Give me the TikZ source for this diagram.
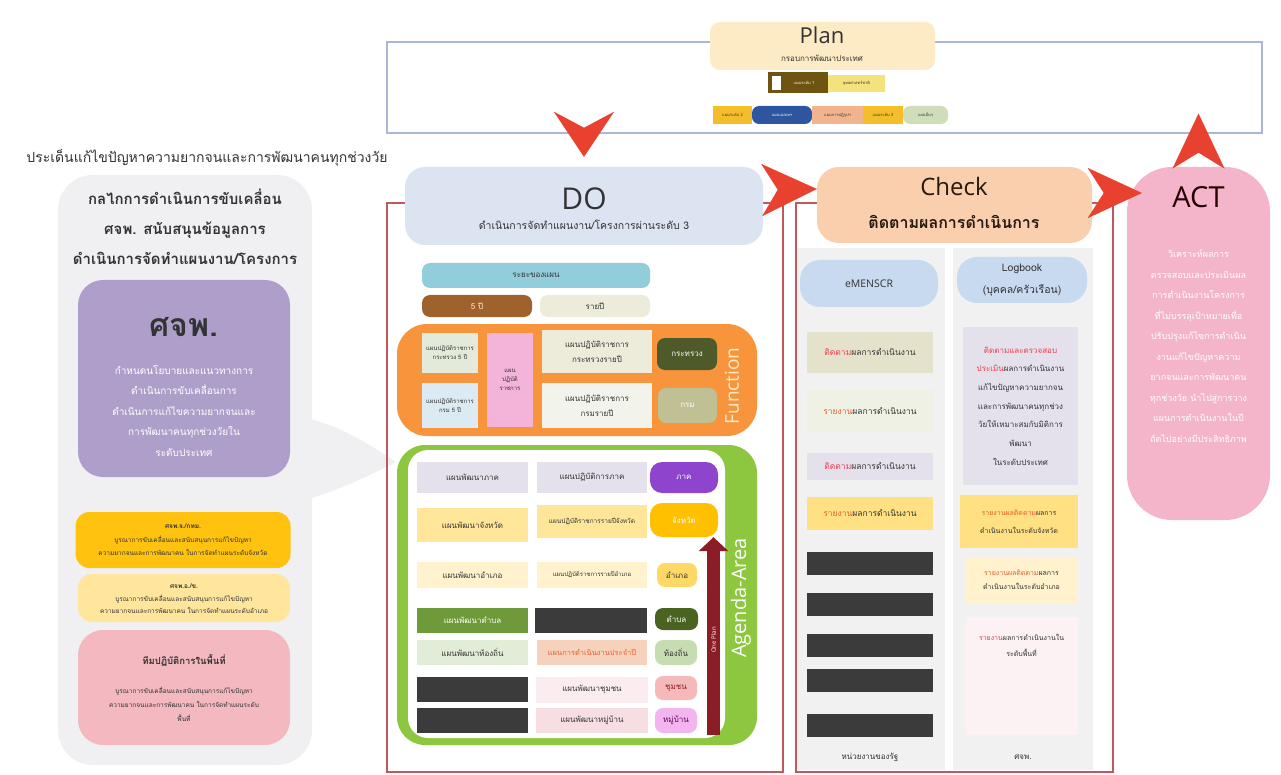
\documentclass[tikz,border=0pt]{standalone}
\usepackage{fontspec}
\setmainfont{Open Sans}
\newfontfamily\thai[Script=Thai]{Loma}
\usepackage{tikz}
\usetikzlibrary{arrows.meta}

\definecolor{framered}{HTML}{C0595E}
\definecolor{arrred}{HTML}{E8412F}
\definecolor{planline}{HTML}{AAB8D8}
\definecolor{cream}{HTML}{FCEBC4}
\definecolor{tagbrown}{HTML}{6E5410}
\definecolor{taglemon}{HTML}{F4E37C}
\definecolor{tagamber}{HTML}{F4BE2A}
\definecolor{tagblue}{HTML}{2D55A0}
\definecolor{tagpeach}{HTML}{F2B48E}
\definecolor{tagsage}{HTML}{CFDDB9}
\definecolor{panel}{HTML}{F0F0F2}
\definecolor{purp}{HTML}{AE9FCA}
\definecolor{gold}{HTML}{FFC20E}
\definecolor{lgold}{HTML}{FFE69C}
\definecolor{rose}{HTML}{F4B8C0}
\definecolor{doblue}{HTML}{DCE4F2}
\definecolor{sky}{HTML}{92CDDC}
\definecolor{planbrown}{HTML}{A0622D}
\definecolor{beige}{HTML}{EDEBD9}
\definecolor{orng}{HTML}{F7943C}
\definecolor{funcsage}{HTML}{E3EAD9}
\definecolor{funcblue}{HTML}{DCEAF3}
\definecolor{funcpink}{HTML}{F4B4DA}
\definecolor{funcpale}{HTML}{F2F3EA}
\definecolor{olive}{HTML}{4E5A2A}
\definecolor{khaki}{HTML}{BFC094}
\definecolor{agreen}{HTML}{8DC63F}
\definecolor{lav}{HTML}{E4E1EC}
\definecolor{regpurple}{HTML}{8E44CC}
\definecolor{yel}{HTML}{FFE699}
\definecolor{lyel}{HTML}{FFF2CC}
\definecolor{amber}{HTML}{FFC000}
\definecolor{ampher}{HTML}{FFD966}
\definecolor{tgreen}{HTML}{6E9A3A}
\definecolor{dgreen}{HTML}{4A6320}
\definecolor{lgreen}{HTML}{E1EDD6}
\definecolor{mgreen}{HTML}{C6DDB2}
\definecolor{peach}{HTML}{F6D2BC}
\definecolor{darkbar}{HTML}{3B3B3B}
\definecolor{lpink}{HTML}{FBEDEF}
\definecolor{mpink}{HTML}{F6DEE2}
\definecolor{cpink}{HTML}{F5B9B9}
\definecolor{magenta}{HTML}{F3B5EF}
\definecolor{oneplan}{HTML}{8B1E24}
\definecolor{chkpeach}{HTML}{F9CFAE}
\definecolor{colgray}{HTML}{F1F1F1}
\definecolor{lblue}{HTML}{C7DAF0}
\definecolor{actpink}{HTML}{F4B5CB}
\definecolor{hired}{HTML}{EE3B4B}
\definecolor{orred}{HTML}{E8602C}
\definecolor{ink}{HTML}{333333}

\newcommand{\tf}[2]{\thai\fontsize{#1}{#2}\selectfont}
\newcommand{\ef}[2]{\fontsize{#1}{#2}\selectfont}

\begin{document}
\begin{tikzpicture}[x=1pt, y=-1pt, every node/.style={inner sep=0pt, align=center, text=ink}]

\tikzset{
	th/.style 2 args = {font = \tf{#1}{#2}},
	en/.style 2 args = {font = \ef{#1}{#2}},
	redframe/.style = {draw = framered, line width = 1.1pt},
	redhead/.style 2 args = {draw = arrred, fill = arrred, line width = 0.1pt,
		-{Stealth[length = #1, width = #2, inset = 16pt]}},
	plantag/.style = {minimum height = 18, th = {4}{5}},
	fbox/.style = {th = {6}{9}},
	agl/.style = {minimum width = 111, minimum height = 25, th = {8}{10}},
	agm/.style = {minimum width = 110, minimum height = 25, th = {8}{10}},
	badge/.style = {rounded corners = 8, th = {8}{10}},
	ebox/.style = {minimum width = 126, th = {8.5}{10}},
	dbar/.style = {fill = darkbar, minimum width = 126, minimum height = 23},
	gbox/.style = {th = {8}{10}}
}

\useasboundingbox (0,0) rectangle (1281,775);
\fill[white] (0,0) rectangle (1281,775);

% Plan
\node[draw = planline, line width = 1.2pt, minimum width = 875, minimum height = 91] (planbox) at (824.5,87.5) {};
\node[fill = cream, rounded corners = 10, minimum width = 225, minimum height = 48] (planlbl) at (822.5,46) {};
\node[en = {22}{24}] (plantit) at (822,35) {Plan};
\node[th = {8}{9}] (plansub) at (822,58) {กรอบการพัฒนาประเทศ};
\node[plantag, fill = tagbrown, minimum width = 60, minimum height = 21, text = white] (lvlone) at (798,82.5) {\hspace{12pt}แผนระดับ 1};
\node[fill = white, draw = tagbrown, minimum width = 10, minimum height = 15] (lvlsq) at (776.5,82.5) {};
\node[plantag, fill = taglemon, minimum width = 57, minimum height = 17] (natstr) at (856.5,83.5) {ยุทธศาสตร์ชาติ};
\node[plantag, fill = tagamber, minimum width = 39] (lvltwo) at (732.5,115) {แผนระดับ 2};
\node[plantag, fill = tagblue, rounded corners = 7, minimum width = 60, text = white] (master) at (782,115) {แผนแม่บทฯ};
\node[plantag, fill = tagpeach, minimum width = 51] (reform) at (837.5,115) {แผนการปฏิรูปฯ};
\node[plantag, fill = tagamber, minimum width = 40] (lvlthree) at (883,115) {แผนระดับ 3};
\node[plantag, fill = tagsage, rounded corners = 7, minimum width = 45] (others) at (925.5,115) {แผนอื่นๆ};

% izquierda
\node[th = {14}{16}] (issue) at (207,158) {ประเด็นแก้ไขปัญหาความยากจนและการพัฒนาคนทุกช่วงวัย};
\fill[panel] (305,418) .. controls (340,425) and (370,445) .. (396,462) .. controls (370,475) and (340,490) .. (305,500) -- cycle;
\node[fill = panel, rounded corners = 35, minimum width = 254, minimum height = 590] (mech) at (185,470) {};
\node[th = {15}{30}] (mechtit) at (185,227) {\bfseries กลไกการดำเนินการขับเคลื่อน\\\bfseries ศจพ. สนับสนุนข้อมูลการ\\\bfseries ดำเนินการจัดทำแผนงาน/โครงการ};
\node[fill = purp, rounded corners = 25, minimum width = 212, minimum height = 197] (kjp) at (184,378.5) {};
\node[th = {32}{34}] (kjptit) at (184,327) {\bfseries ศจพ.};
\node[th = {10}{20.5}, text = white] (kjptxt) at (184,411) {กำหนดนโยบายและแนวทางการ\\ดำเนินการขับเคลื่อนการ\\ดำเนินการแก้ไขความยากจนและ\\การพัฒนาคนทุกช่วงวัยใน\\ระดับประเทศ};
\node[fill = gold, rounded corners = 14, minimum width = 215, minimum height = 56] (kjpj) at (183,540) {};
\node[th = {6.5}{13.5}] (kjpjtxt) at (183,540) {\bfseries ศจพ.จ./กทม.\\บูรณาการขับเคลื่อนและสนับสนุนการแก้ไขปัญหา\\ความยากจนและการพัฒนาคน ในการจัดทำแผนระดับจังหวัด};
\node[fill = lgold, rounded corners = 14, minimum width = 212, minimum height = 48] (kjpa) at (184,598) {};
\node[th = {6.5}{12.5}] (kjpatxt) at (184,599) {\bfseries ศจพ.อ./ข.\\บูรณาการขับเคลื่อนและสนับสนุนการแก้ไขปัญหา\\ความยากจนและการพัฒนาคน ในการจัดทำแผนระดับอำเภอ};
\node[fill = rose, rounded corners = 25, minimum width = 212, minimum height = 115] (team) at (184,687.5) {};
\node[th = {9.5}{11}] (teamtit) at (184,660) {\bfseries ทีมปฏิบัติการในพื้นที่};
\node[th = {6.5}{14}] (teamtxt) at (184,704) {บูรณาการขับเคลื่อนและสนับสนุนการแก้ไขปัญหา\\ความยากจนและการพัฒนาคน ในการจัดทำแผนระดับ\\พื้นที่};

% DO
\draw[redframe] (387,203) rectangle (783,772);
\node[fill = doblue, rounded corners = 20, minimum width = 358, minimum height = 78] (dohead) at (584,206) {};
\node[en = {30}{32}] (dotit) at (584,199) {DO};
\node[th = {10.5}{12}] (dosub) at (584,225) {ดำเนินการจัดทำแผนงาน/โครงการผ่านระดับ 3};
\node[fill = sky, rounded corners = 8, minimum width = 228, minimum height = 25, th = {8}{10}] (span) at (536,275.5) {ระยะของแผน};
\node[fill = planbrown, rounded corners = 8, minimum width = 110, minimum height = 22, th = {8}{10}, text = cream] (fiveyr) at (477,306) {5 ปี};
\node[fill = beige, rounded corners = 8, minimum width = 110, minimum height = 22, th = {8}{10}] (yearly) at (595,306) {รายปี};

% Function
\node[fill = orng, rounded corners = 30, minimum width = 360, minimum height = 112] (func) at (577,380) {};
\node[fbox, fill = funcsage, minimum width = 56, minimum height = 40] (funca) at (450,353) {แผนปฏิบัติราชการ\\กระทรวง 5 ปี};
\node[fbox, fill = funcblue, minimum width = 56, minimum height = 45] (funcb) at (450,405.5) {แผนปฏิบัติราชการ\\กรม 5 ปี};
\node[fbox, fill = funcpink, minimum width = 46, minimum height = 94] (funcp) at (510,380) {แผน\\ปฏิบัติ\\ราชการ};
\node[fill = beige, minimum width = 110, minimum height = 43, th = {8}{15}] (funcc) at (597,351.5) {แผนปฏิบัติราชการ\\กระทรวงรายปี};
\node[fill = funcpale, minimum width = 110, minimum height = 45, th = {8}{15}] (funcd) at (597,405.5) {แผนปฏิบัติราชการ\\กรมรายปี};
\node[badge, fill = olive, minimum width = 60, minimum height = 32, text = white] (minis) at (687,354) {กระทรวง};
\node[badge, fill = khaki, minimum width = 59, minimum height = 35, text = white] (dept) at (687.5,405.5) {กรม};
\node[en = {19}{20}, text = cream, rotate = 90] (functxt) at (732,386) {Function};

% Agenda
\node[fill = agreen, rounded corners = 28, minimum width = 360, minimum height = 300] (agenda) at (577,595) {};
\node[fill = white, rounded corners = 20, minimum width = 317, minimum height = 288] (agendain) at (566.5,594) {};
\node[en = {20}{22}, text = white, rotate = 90] (agendatxt) at (741,598) {Agenda-Area};

\node[agl, fill = lav, minimum height = 31] (regplan) at (472.5,477.5) {แผนพัฒนาภาค};
\node[agm, fill = lav, minimum height = 31] (regact) at (592,477.5) {แผนปฏิบัติการภาค};
\node[badge, fill = regpurple, rounded corners = 12, minimum width = 68, minimum height = 31, text = white] (region) at (684,477.5) {ภาค};

\node[agl, fill = yel, minimum height = 34] (provplan) at (472.5,525) {แผนพัฒนาจังหวัด};
\node[agm, fill = yel, minimum height = 33, th = {6.5}{8}] (provact) at (592,521.5) {แผนปฏิบัติราชการรายปีจังหวัด};
\node[badge, fill = amber, rounded corners = 12, minimum width = 68, minimum height = 34, text = white] (prov) at (684,520) {จังหวัด};

\node[agl, fill = lyel, minimum height = 26] (distplan) at (472.5,575) {แผนพัฒนาอำเภอ};
\node[agm, fill = lyel, minimum height = 26, th = {6}{8}] (distact) at (592,575) {แผนปฏิบัติราชการรายปีอำเภอ};
\node[badge, fill = ampher, minimum width = 40, minimum height = 24] (dist) at (677,575) {อำเภอ};

\node[agl, fill = tgreen, text = white] (subplan) at (472.5,620.5) {แผนพัฒนาตำบล};
\node[agm, fill = darkbar, minimum width = 112] (subact) at (591,620.5) {};
\node[badge, fill = dgreen, minimum width = 43, minimum height = 22, text = white] (subd) at (676.5,619) {ตำบล};

\node[agl, fill = lgreen] (locplan) at (472.5,652.5) {แผนพัฒนาท้องถิ่น};
\node[agm, fill = peach, text = orred, th = {7.5}{9}] (locact) at (592,652.5) {แผนการดำเนินงานประจำปี};
\node[badge, fill = mgreen, minimum width = 42, minimum height = 25] (local) at (676,652.5) {ท้องถิ่น};

\node[agl, fill = darkbar] (combar) at (472.5,689.5) {};
\node[agm, fill = lpink, minimum width = 112, minimum height = 26] (complan) at (592,689.5) {แผนพัฒนาชุมชน};
\node[badge, fill = cpink, minimum width = 42, minimum height = 24, text = oneplan] (comm) at (676,688) {ชุมชน};

\node[agl, fill = darkbar] (vilbar) at (472.5,720.5) {};
\node[agm, fill = mpink, minimum width = 112] (vilplan) at (592,720.5) {แผนพัฒนาหมู่บ้าน};
\node[badge, fill = magenta, minimum width = 42, minimum height = 25, text = violet!70!black] (village) at (676,720.5) {หมู่บ้าน};

\coordinate (opbot) at (713.5,735);
\draw[oneplan, line width = 13pt, -{Triangle[length = 14pt, width = 29pt]}] (opbot) -- (opbot |- prov.south);
\node[en = {6}{7}, text = white, rotate = 90] (optxt) at (713.5,640) {One Plan};

% Check
\draw[redframe] (796,203) rectangle (1113,772);
\node[fill = colgray, minimum width = 148, minimum height = 522] (coll) at (871,509) {};
\node[fill = colgray, minimum width = 140, minimum height = 522] (colr) at (1023,509) {};
\node[fill = chkpeach, rounded corners = 22, minimum width = 275, minimum height = 76] (checkhead) at (954.5,205) {};
\node[en = {24}{26}, text = black!80!brown] (chktit) at (954,187) {Check};
\node[th = {16}{18}, text = black!80!brown] (chksub) at (954,222) {\bfseries ติดตามผลการดำเนินการ};

\node[fill = lblue, rounded corners = 20, minimum width = 138, minimum height = 47, en = {10.5}{12}] (emens) at (869,283.5) {eMENSCR};
\node[fill = lblue, rounded corners = 20, minimum width = 130, minimum height = 46, th = {10.5}{22}] (logbk) at (1022,280) {Logbook\\(บุคคล/ครัวเรือน)};

\node[ebox, fill = beige!80!khaki, minimum height = 41] (eone) at (870,352.5) {\textcolor{hired}{ติดตาม}ผลการดำเนินงาน};
\node[ebox, fill = funcpale!70!beige, minimum height = 42] (etwo) at (870,411) {\textcolor{orred}{รายงาน}ผลการดำเนินงาน};
\node[ebox, fill = lav, minimum height = 27] (ethree) at (870,466.5) {\textcolor{hired}{ติดตาม}ผลการดำเนินงาน};
\node[ebox, fill = yel!85!amber, minimum height = 33] (efour) at (870,513.5) {\textcolor{orred}{รายงาน}ผลการดำเนินงาน};
\node[dbar] (bara) at (870,563.5) {};
\node[dbar] (barb) at (870,604.5) {};
\node[dbar] (barc) at (870,645.5) {};
\node[dbar] (bard) at (870,680) {};
\node[dbar] (bare) at (870,725) {};
\node[th = {8}{10}] (unitl) at (870,757) {หน่วยงานของรัฐ};

\node[gbox, fill = lav, minimum width = 115, minimum height = 158, th = {8}{18.7}] (gone) at (1020.5,406) {\textcolor{hired}{ติดตามและตรวจสอบ}\\\textcolor{hired}{ประเมิน}ผลการดำเนินงาน\\แก้ไขปัญหาความยากจน\\และการพัฒนาคนทุกช่วง\\วัยให้เหมาะสมกับมิติการ\\พัฒนา\\ในระดับประเทศ};
\node[gbox, fill = yel!85!amber, minimum width = 118, minimum height = 53, th = {7}{18}] (gtwo) at (1019,521.5) {\textcolor{orred}{รายงานผลติดตาม}ผลการ\\ดำเนินงานในระดับจังหวัด};
\node[gbox, fill = lyel, minimum width = 113, minimum height = 47, th = {7}{14}] (gthree) at (1021.5,580) {\textcolor{orred}{รายงานผลติดตาม}ผลการ\\ดำเนินงานในระดับอำเภอ};
\node[fill = lpink!70!white, minimum width = 113, minimum height = 118] (gfour) at (1021.5,676) {};
\node[th = {7}{16}] (gfourtxt) at (1021.5,645) {\textcolor{hired}{รายงาน}ผลการดำเนินงานใน\\ระดับพื้นที่};
\node[th = {8}{10}] (unitr) at (1023,757) {ศจพ.};

% ACT
\node[fill = actpink, rounded corners = 45, minimum width = 143, minimum height = 353] (act) at (1198.5,343.5) {};
\node[en = {29}{31}, text = black!85!red] (acttit) at (1198.5,197) {ACT};
\node[th = {9}{20.5}, text = white] (acttxt) at (1198.5,346) {วิเคราะห์ผลการ\\ตรวจสอบและประเมินผล\\การดำเนินงานโครงการ\\ที่ไม่บรรลุเป้าหมายเพื่อ\\ปรับปรุงแก้ไขการดำเนิน\\งานแก้ไขปัญหาความ\\ยากจนและการพัฒนาคน\\ทุกช่วงวัย นำไปสู่การวาง\\แผนการดำเนินงานในปี\\ถัดไปอย่างมีประสิทธิภาพ};

% flechas PDCA
\draw[redhead = {45pt}{60pt}, shorten >= 10pt] (planbox.south -| dohead.north) -- (dohead.north);
\draw[redhead = {55pt}{52pt}, shorten <= 15pt] ([yshift = 16pt]dohead.east) -- ([yshift = 16pt]checkhead.west);
\draw[redhead = {54pt}{50pt}, shorten <= 12pt, shorten >= -15pt] ([yshift = 12pt]checkhead.east) -- ([yshift = 12pt]checkhead.east -| act.west);
\draw[redhead = {55pt}{52pt}, shorten <= 15pt, shorten >= -20pt] (act.north) -- (act.north |- planbox.south);
\end{tikzpicture}
\end{document}
